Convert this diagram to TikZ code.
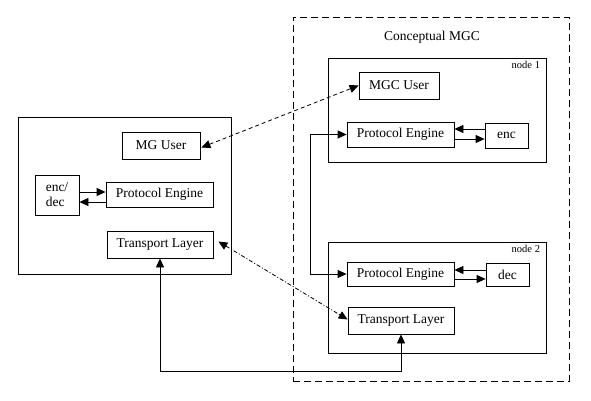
\documentclass[tikz,border=0pt]{standalone}
\usepackage{fontspec}
\setmainfont{Liberation Serif}
\usetikzlibrary{arrows.meta}
\begin{document}
\begin{tikzpicture}[x=1pt,y=-1pt,
  line width=0.8pt,
  >={Triangle[length=9pt,width=8pt]},
  box/.style={draw,inner sep=0pt,font=\fontsize{13.5}{15}\selectfont},
  small/.style={font=\fontsize{10.5}{12}\selectfont,inner sep=0pt},
  bigdash/.style={dash pattern=on 7pt off 4pt},
  msgdash/.style={dash pattern=on 4pt off 3pt},
  dotdash/.style={dash pattern=on 4pt off 2pt on 1pt off 2pt}]
\useasboundingbox (0,0) rectangle (591,401);
% left MG
\node[box,minimum width=213pt,minimum height=157pt] (mg) at (124.5,195.5) {};
\node[box,minimum width=78pt,minimum height=27pt] (mgu) at (161,145.5) {MG User};
\node[box,minimum width=44pt,minimum height=40pt,align=left] (ed) at (57,195) {enc/\\dec};
\node[box,minimum width=107pt,minimum height=25pt] (pel) at (159.5,194.5) {Protocol Engine};
\node[box,minimum width=106pt,minimum height=27pt] (tll) at (160,244.5) {Transport Layer};
% conceptual MGC
\node[box,bigdash,minimum width=276pt,minimum height=364pt] (mgc) at (431,199) {};
\node[font=\fontsize{13.5}{15}\selectfont] (title) at (432,37) {Conceptual MGC};
\node[box,minimum width=218pt,minimum height=104pt] (n1) at (437,110) {};
\node[small,anchor=north east] (n1l) at ([xshift=-6pt,yshift=-3pt]n1.north east) {node 1};
\node[box,minimum width=80pt,minimum height=27pt] (mgcu) at (399,85.5) {MGC User};
\node[box,minimum width=107pt,minimum height=25pt] (pe1) at (400.5,134.5) {Protocol Engine};
\node[box,minimum width=43pt,minimum height=25pt] (enc) at (506.5,135.5) {enc};
\node[box,minimum width=218pt,minimum height=111pt] (n2) at (437,297.5) {};
\node[small,anchor=north east] (n2l) at ([xshift=-6pt,yshift=-3pt]n2.north east) {node 2};
\node[box,minimum width=107pt,minimum height=24pt] (pe2) at (400.5,274) {Protocol Engine};
\node[box,minimum width=43pt,minimum height=23pt] (dec) at (507.5,274.5) {dec};
\node[box,minimum width=106pt,minimum height=27pt] (tl2) at (401,320.5) {Transport Layer};
% local arrows
\draw[->] (ed.east |- 0,192) -- (pel.west |- 0,192);
\draw[<-] (ed.east |- 0,202) -- (pel.west |- 0,202);
\draw[<-] (pe1.east |- 0,129) -- (enc.west |- 0,129);
\draw[->] (pe1.east |- 0,139) -- (enc.west |- 0,139);
\draw[<-] (pe2.east |- 0,270) -- (dec.west |- 0,270);
\draw[->] (pe2.east |- 0,279) -- (dec.west |- 0,279);
% connectors
\draw[<->] (pe1.west) -- ++(-36,0) |- (pe2.west);
\coordinate (bot) at (0,371);
\draw[<->] (tll.south) -- (tll.south |- bot) -| (tl2.south);
\draw[<->,msgdash] ([shift={(1pt,-2pt)}]mgu.east) -- (mgcu.west);
\draw[<->,dotdash] ([shift={(5pt,3pt)}]tll.east) -- ([yshift=1pt]tl2.west);
\end{tikzpicture}
\end{document}
